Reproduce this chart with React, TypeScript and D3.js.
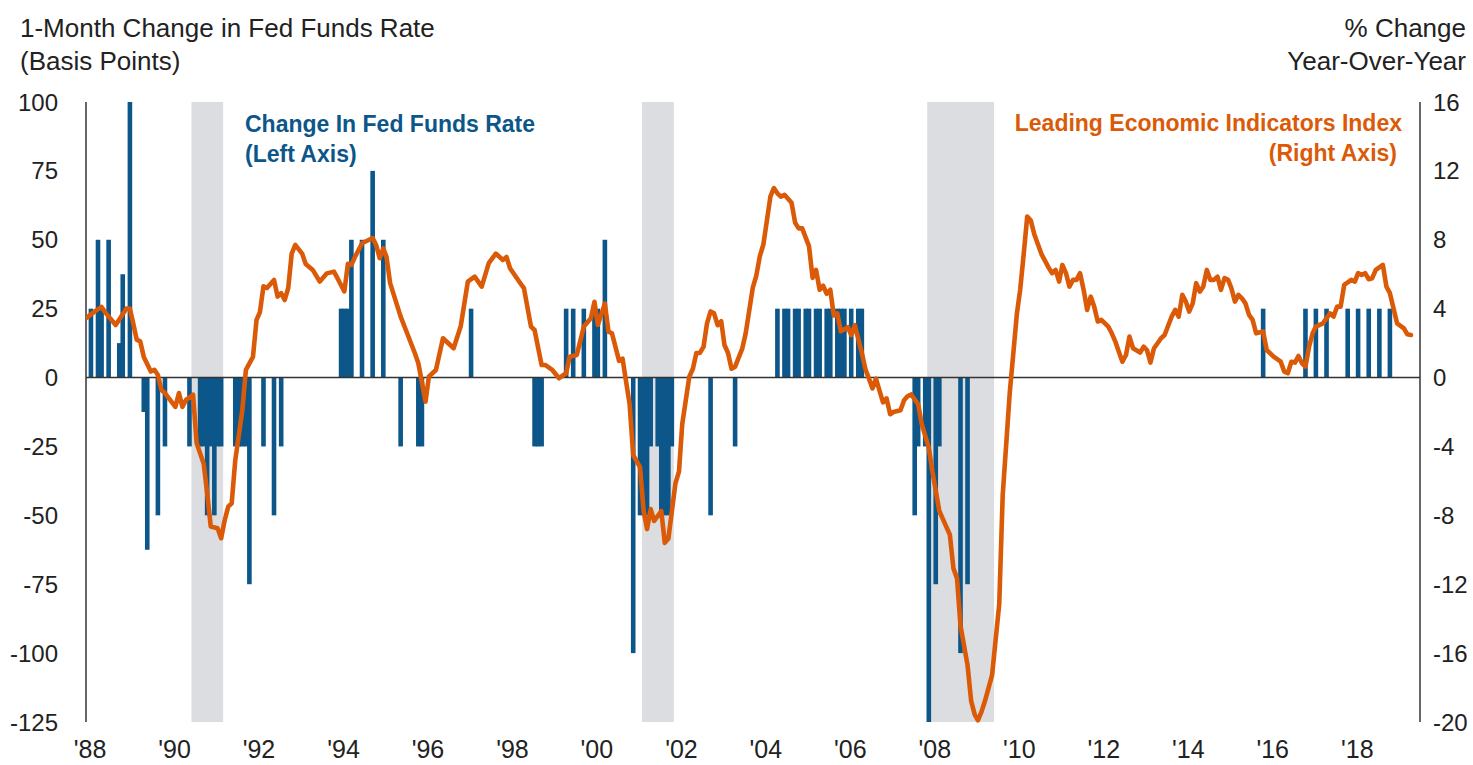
import React, { useEffect, useRef } from 'react';
import * as d3 from 'd3';

// monthly change in the fed funds target rate, basis points (months without a move are left out)
const fedChanges: [string, number][] = [
    ['1988-03', 25], ['1988-05', 50], ['1988-06', 25], ['1988-08', 50], ['1988-11', 12.5], ['1988-12', 37.5],
    ['1989-02', 100], ['1989-06', -12.5], ['1989-07', -62.5], ['1989-10', -50], ['1989-12', -25],
    ['1990-07', -25], ['1990-10', -25], ['1990-11', -25], ['1990-12', -50],
    ['1991-01', -25], ['1991-02', -50], ['1991-03', -25], ['1991-04', -25], ['1991-08', -25], ['1991-09', -25],
    ['1991-10', -25], ['1991-11', -25], ['1991-12', -75],
    ['1992-04', -25], ['1992-07', -50], ['1992-09', -25],
    ['1994-02', 25], ['1994-03', 25], ['1994-04', 25], ['1994-05', 50], ['1994-08', 50], ['1994-11', 75],
    ['1995-02', 50], ['1995-07', -25], ['1995-12', -25], ['1996-01', -25], ['1997-03', 25],
    ['1998-09', -25], ['1998-10', -25], ['1998-11', -25],
    ['1999-06', 25], ['1999-08', 25], ['1999-11', 25], ['2000-02', 25], ['2000-03', 25], ['2000-05', 50],
    ['2001-01', -100], ['2001-03', -50], ['2001-04', -50], ['2001-05', -50], ['2001-06', -25], ['2001-08', -25],
    ['2001-09', -50], ['2001-10', -50], ['2001-11', -50], ['2001-12', -25],
    ['2002-11', -50], ['2003-06', -25],
    ['2004-06', 25], ['2004-08', 25], ['2004-09', 25], ['2004-11', 25], ['2004-12', 25],
    ['2005-02', 25], ['2005-03', 25], ['2005-05', 25], ['2005-06', 25], ['2005-08', 25], ['2005-09', 25],
    ['2005-11', 25], ['2005-12', 25], ['2006-01', 25], ['2006-03', 25], ['2006-05', 25], ['2006-06', 25],
    ['2007-09', -50], ['2007-10', -25], ['2007-12', -25], ['2008-01', -125], ['2008-03', -75], ['2008-04', -25],
    ['2008-10', -100], ['2008-12', -75],
    ['2015-12', 25], ['2016-12', 25], ['2017-03', 25], ['2017-06', 25], ['2017-12', 25],
    ['2018-03', 25], ['2018-06', 25], ['2018-09', 25], ['2018-12', 25],
];

// leading economic indicators index, % change year-over-year
const leiSeries: [string, number][] = [
    ['1988-01', 3.35], ['1988-04', 3.83], ['1988-06', 4.1], ['1988-07', 3.8], ['1988-10', 3.05],
    ['1989-01', 4.0], ['1989-02', 4.0], ['1989-03', 3.17], ['1989-04', 2.2], ['1989-05', 2.1], ['1989-06', 1.2],
    ['1989-08', 0.35], ['1989-09', 0.45], ['1989-10', 0.15], ['1989-11', -0.72], ['1989-12', -0.9],
    ['1990-03', -1.7], ['1990-04', -0.9], ['1990-05', -1.7], ['1990-06', -1.3], ['1990-08', -1.0],
    ['1990-09', -3.8], ['1990-11', -5.0], ['1990-12', -6.7],
    ['1991-01', -8.65], ['1991-03', -8.75], ['1991-04', -9.33], ['1991-05', -8.3], ['1991-06', -7.5],
    ['1991-07', -7.3], ['1991-08', -4.8], ['1991-10', -1.9], ['1991-11', 0.45],
    ['1992-01', 1.2], ['1992-02', 3.35], ['1992-03', 3.8], ['1992-04', 5.3], ['1992-05', 5.2], ['1992-07', 5.67],
    ['1992-08', 4.7], ['1992-09', 4.9], ['1992-10', 4.5], ['1992-11', 5.2], ['1992-12', 7.2],
    ['1993-01', 7.7], ['1993-03', 7.2], ['1993-04', 6.6], ['1993-06', 6.25], ['1993-08', 5.57],
    ['1993-10', 6.05], ['1993-12', 6.15],
    ['1994-01', 5.77], ['1994-03', 5.0], ['1994-04', 6.6], ['1994-05', 6.54], ['1994-06', 7.0], ['1994-08', 7.8],
    ['1994-11', 8.1], ['1994-12', 7.7],
    ['1995-01', 6.93], ['1995-02', 7.5], ['1995-03', 7.0], ['1995-04', 5.48], ['1995-07', 3.54],
    ['1995-09', 2.47], ['1995-11', 1.41], ['1995-12', 0.83],
    ['1996-02', -1.4], ['1996-03', 0.05], ['1996-05', 0.44], ['1996-07', 2.28], ['1996-10', 1.7], ['1996-12', 2.96],
    ['1997-02', 5.57], ['1997-04', 5.86], ['1997-06', 5.28], ['1997-08', 6.64], ['1997-10', 7.2], ['1997-12', 6.83],
    ['1998-01', 7.0], ['1998-02', 6.35], ['1998-05', 5.48], ['1998-06', 5.19], ['1998-08', 2.96],
    ['1998-09', 2.76], ['1998-11', 0.73], ['1998-12', 0.73],
    ['1999-02', 0.44], ['1999-04', -0.04], ['1999-06', 0.25], ['1999-07', 1.21], ['1999-09', 1.31], ['1999-11', 2.96],
    ['2000-01', 3.44], ['2000-02', 4.4], ['2000-03', 3.05], ['2000-05', 4.3], ['2000-06', 2.67], ['2000-07', 2.57],
    ['2000-09', 0.97], ['2000-10', 1.09], ['2000-12', -1.55],
    ['2001-01', -4.5], ['2001-03', -5.2], ['2001-04', -7.75], ['2001-05', -8.8], ['2001-06', -7.64],
    ['2001-07', -8.33], ['2001-09', -7.75], ['2001-10', -9.6], ['2001-11', -9.35],
    ['2002-01', -6.15], ['2002-02', -5.45], ['2002-03', -2.7], ['2002-05', 0.05], ['2002-06', 0.51],
    ['2002-07', 1.43], ['2002-08', 1.43], ['2002-09', 1.78], ['2002-10', 3.15], ['2002-11', 3.84], ['2002-12', 3.73],
    ['2003-01', 3.04], ['2003-02', 3.27], ['2003-03', 1.89], ['2003-04', 1.43], ['2003-05', 0.51], ['2003-06', 0.63],
    ['2003-08', 1.66], ['2003-09', 2.58], ['2003-11', 5.22], ['2003-12', 5.9],
    ['2004-01', 7.05], ['2004-02', 7.74], ['2004-04', 10.5], ['2004-05', 11.0], ['2004-06', 10.7],
    ['2004-07', 10.5], ['2004-08', 10.61], ['2004-10', 10.15], ['2004-11', 9.0], ['2004-12', 8.66],
    ['2005-01', 8.66], ['2005-03', 7.63], ['2005-04', 5.79], ['2005-05', 6.25], ['2005-06', 5.1], ['2005-07', 5.33],
    ['2005-08', 4.87], ['2005-09', 5.1], ['2005-10', 3.61], ['2005-11', 3.73], ['2005-12', 2.69],
    ['2006-02', 2.92], ['2006-03', 2.46], ['2006-04', 3.04], ['2006-06', 1.43], ['2006-07', 0.51],
    ['2006-09', -0.63], ['2006-10', -0.06], ['2006-12', -1.44],
    ['2007-01', -1.21], ['2007-02', -2.13], ['2007-03', -2.0], ['2007-05', -1.9], ['2007-06', -1.32],
    ['2007-07', -1.09], ['2007-08', -0.98], ['2007-10', -1.55], ['2007-11', -2.7],
    ['2008-01', -4.08], ['2008-02', -5.45], ['2008-04', -7.75], ['2008-05', -8.21], ['2008-07', -9.13],
    ['2008-08', -11.08], ['2008-09', -11.66], ['2008-10', -14.4], ['2008-12', -16.7],
    ['2009-01', -18.77], ['2009-02', -19.57], ['2009-03', -19.9], ['2009-04', -19.4], ['2009-05', -18.77],
    ['2009-07', -17.28], ['2009-09', -13.15], ['2009-10', -6.83], ['2009-12', -0.87],
    ['2010-01', 1.43], ['2010-02', 3.73], ['2010-03', 5.1], ['2010-04', 7.2], ['2010-05', 9.35], ['2010-06', 9.12],
    ['2010-07', 8.32], ['2010-09', 7.17], ['2010-11', 6.4], ['2010-12', 6.06],
    ['2011-01', 6.25], ['2011-02', 5.57], ['2011-03', 6.54], ['2011-04', 6.06], ['2011-05', 5.28], ['2011-06', 5.67],
    ['2011-07', 5.67], ['2011-08', 6.06], ['2011-09', 5.09], ['2011-10', 3.93], ['2011-11', 4.7], ['2011-12', 4.12],
    ['2012-01', 3.25], ['2012-02', 3.35], ['2012-04', 2.96], ['2012-05', 2.57], ['2012-06', 2.09], ['2012-07', 1.5],
    ['2012-08', 0.92], ['2012-09', 1.31], ['2012-10', 2.38], ['2012-11', 1.7],
    ['2013-01', 1.45], ['2013-02', 1.79], ['2013-03', 1.6], ['2013-04', 0.87], ['2013-05', 1.7], ['2013-06', 1.99],
    ['2013-07', 2.28], ['2013-08', 2.47], ['2013-10', 3.54], ['2013-11', 3.93], ['2013-12', 3.54],
    ['2014-01', 4.8], ['2014-02', 4.41], ['2014-03', 3.83], ['2014-04', 4.31], ['2014-05', 5.48], ['2014-06', 4.99],
    ['2014-07', 5.28], ['2014-08', 6.25], ['2014-09', 5.67], ['2014-10', 5.67], ['2014-11', 5.86], ['2014-12', 5.09],
    ['2015-01', 5.77], ['2015-02', 5.67], ['2015-03', 5.19], ['2015-04', 4.41], ['2015-05', 4.8], ['2015-06', 4.6],
    ['2015-07', 4.31], ['2015-08', 3.64], ['2015-09', 3.35], ['2015-10', 2.57], ['2015-12', 2.67],
    ['2016-01', 1.6], ['2016-03', 1.21], ['2016-05', 0.92], ['2016-06', 0.34], ['2016-07', 0.25], ['2016-08', 0.92],
    ['2016-09', 0.87], ['2016-10', 1.25], ['2016-11', 0.83], ['2016-12', 0.63],
    ['2017-01', 1.79], ['2017-02', 2.57], ['2017-03', 2.96], ['2017-05', 3.15], ['2017-07', 3.73], ['2017-08', 3.54],
    ['2017-09', 4.12], ['2017-10', 4.12], ['2017-11', 5.38],
    ['2018-01', 5.67], ['2018-02', 5.57], ['2018-03', 6.06], ['2018-04', 5.96], ['2018-05', 6.06], ['2018-06', 5.71],
    ['2018-07', 5.77], ['2018-08', 6.25], ['2018-10', 6.54], ['2018-11', 5.28], ['2018-12', 4.9],
    ['2019-01', 4.02], ['2019-02', 3.15], ['2019-04', 2.86], ['2019-05', 2.51], ['2019-06', 2.47],
];

// NBER recessions, peak month to trough month
const recessions: [string, string][] = [
    ['1990-07', '1991-03'],
    ['2001-03', '2001-11'],
    ['2007-12', '2009-06'],
];

const leftTicks = [100, 75, 50, 25, 0, -25, -50, -75, -100, -125];
const rightTicks = [16, 12, 8, 4, 0, -4, -8, -12, -16, -20];
const yearTicks = [1988, 1990, 1992, 1994, 1996, 1998, 2000, 2002, 2004, 2006, 2008, 2010, 2012, 2014, 2016, 2018];

const BLUE = '#0c5689';
const ORANGE = '#da5a07';
const FONT = '"Liberation Sans", Arial, sans-serif';

const App: React.FC = () => {
    const svgRef = useRef<SVGSVGElement>(null);

    useEffect(() => {
        if (!svgRef.current) return;
        const svg = d3.select(svgRef.current);
        svg.selectAll('*').remove();

        const parse = d3.timeParse('%Y-%m');
        const month = (s: string) => parse(s) as Date;

        const x = d3.scaleTime()
            .domain([new Date(1988, 0, 1), new Date(2019, 7, 1)])
            .range([86, 1420]);
        const yL = d3.scaleLinear().domain([-125, 100]).range([722, 102]);
        const yR = d3.scaleLinear().domain([-20, 16]).range([722, 102]);

        // keep the line inside the plot on the left edge
        svg.append('defs').append('clipPath')
            .attr('id', 'plot-clip')
            .append('rect')
            .attr('x', 86).attr('y', 0)
            .attr('width', 1420 - 86).attr('height', 765);

        // recession shading
        svg.append('g')
            .selectAll('rect')
            .data(recessions)
            .join('rect')
            .attr('x', d => x(month(d[0])))
            .attr('width', d => x(d3.timeMonth.offset(month(d[1]), 1)) - x(month(d[0])))
            .attr('y', yL(100))
            .attr('height', yL(-125) - yL(100))
            .attr('fill', '#dcdde0');

        // fed funds bars
        svg.append('g')
            .selectAll('rect')
            .data(fedChanges)
            .join('rect')
            .attr('x', d => x(month(d[0])) - 4.3)
            .attr('width', 4.6)
            .attr('y', d => yL(Math.max(0, d[1])))
            .attr('height', d => Math.abs(yL(d[1]) - yL(0)))
            .attr('fill', BLUE);

        // axes lines
        svg.append('line')
            .attr('x1', 86).attr('x2', 1420)
            .attr('y1', yL(0)).attr('y2', yL(0))
            .attr('stroke', '#333').attr('stroke-width', 1.5);
        svg.append('line')
            .attr('x1', 86).attr('x2', 86)
            .attr('y1', yL(100)).attr('y2', yL(-125))
            .attr('stroke', '#333').attr('stroke-width', 1.5);
        svg.append('line')
            .attr('x1', 1420).attr('x2', 1420)
            .attr('y1', yR(16)).attr('y2', yR(-20))
            .attr('stroke', '#333').attr('stroke-width', 1.5);

        // LEI line
        const line = d3.line<[string, number]>()
            .x(d => x(month(d[0])) - 2)
            .y(d => yR(d[1]));
        svg.append('path')
            .datum(leiSeries)
            .attr('clip-path', 'url(#plot-clip)')
            .attr('fill', 'none')
            .attr('stroke', ORANGE)
            .attr('stroke-width', 4.6)
            .attr('stroke-linejoin', 'round')
            .attr('stroke-linecap', 'round')
            .attr('d', line);

        const txt = svg.append('g').style('font-family', FONT);

        // tick labels
        txt.selectAll('text.lt')
            .data(leftTicks)
            .join('text')
            .attr('class', 'lt')
            .attr('x', 58)
            .attr('y', d => yL(d) + 8.5)
            .attr('text-anchor', 'end')
            .style('font-size', '24px')
            .style('fill', '#222')
            .text(d => String(d));

        txt.selectAll('text.rt')
            .data(rightTicks)
            .join('text')
            .attr('class', 'rt')
            .attr('x', 1433)
            .attr('y', d => yR(d) + 8.5)
            .style('font-size', '24px')
            .style('fill', '#222')
            .text(d => String(d));

        txt.selectAll('text.xt')
            .data(yearTicks)
            .join('text')
            .attr('class', 'xt')
            .attr('x', d => x(new Date(d, 0, 1)) + 4)
            .attr('y', 758)
            .attr('text-anchor', 'middle')
            .style('font-size', '25px')
            .style('fill', '#222')
            .text(d => `'${String(d % 100).padStart(2, '0')}`);

        // axis titles
        const title = (s: string, xx: number, yy: number, anchor: string) =>
            txt.append('text')
                .attr('x', xx).attr('y', yy)
                .attr('text-anchor', anchor)
                .style('font-size', '26px')
                .style('fill', '#222')
                .text(s);
        title('1-Month Change in Fed Funds Rate', 20, 37, 'start');
        title('(Basis Points)', 20, 70, 'start');
        title('% Change', 1466, 37, 'end');
        title('Year-Over-Year', 1466, 70, 'end');

        // series labels
        const label = (s: string, xx: number, yy: number, anchor: string, color: string) =>
            txt.append('text')
                .attr('x', xx).attr('y', yy)
                .attr('text-anchor', anchor)
                .style('font-size', '23px')
                .style('font-weight', 'bold')
                .style('fill', color)
                .text(s);
        label('Change In Fed Funds Rate', 245, 132, 'start', BLUE);
        label('(Left Axis)', 245, 162, 'start', BLUE);
        label('Leading Economic Indicators Index', 1402, 131, 'end', ORANGE);
        label('(Right Axis)', 1397, 161, 'end', ORANGE);
    }, []);

    return (
        <svg
            ref={svgRef}
            width={1473}
            height={765}
            style={{ position: 'absolute', left: 0, top: 0, background: '#fff' }}
        />
    );
};

export default App;
